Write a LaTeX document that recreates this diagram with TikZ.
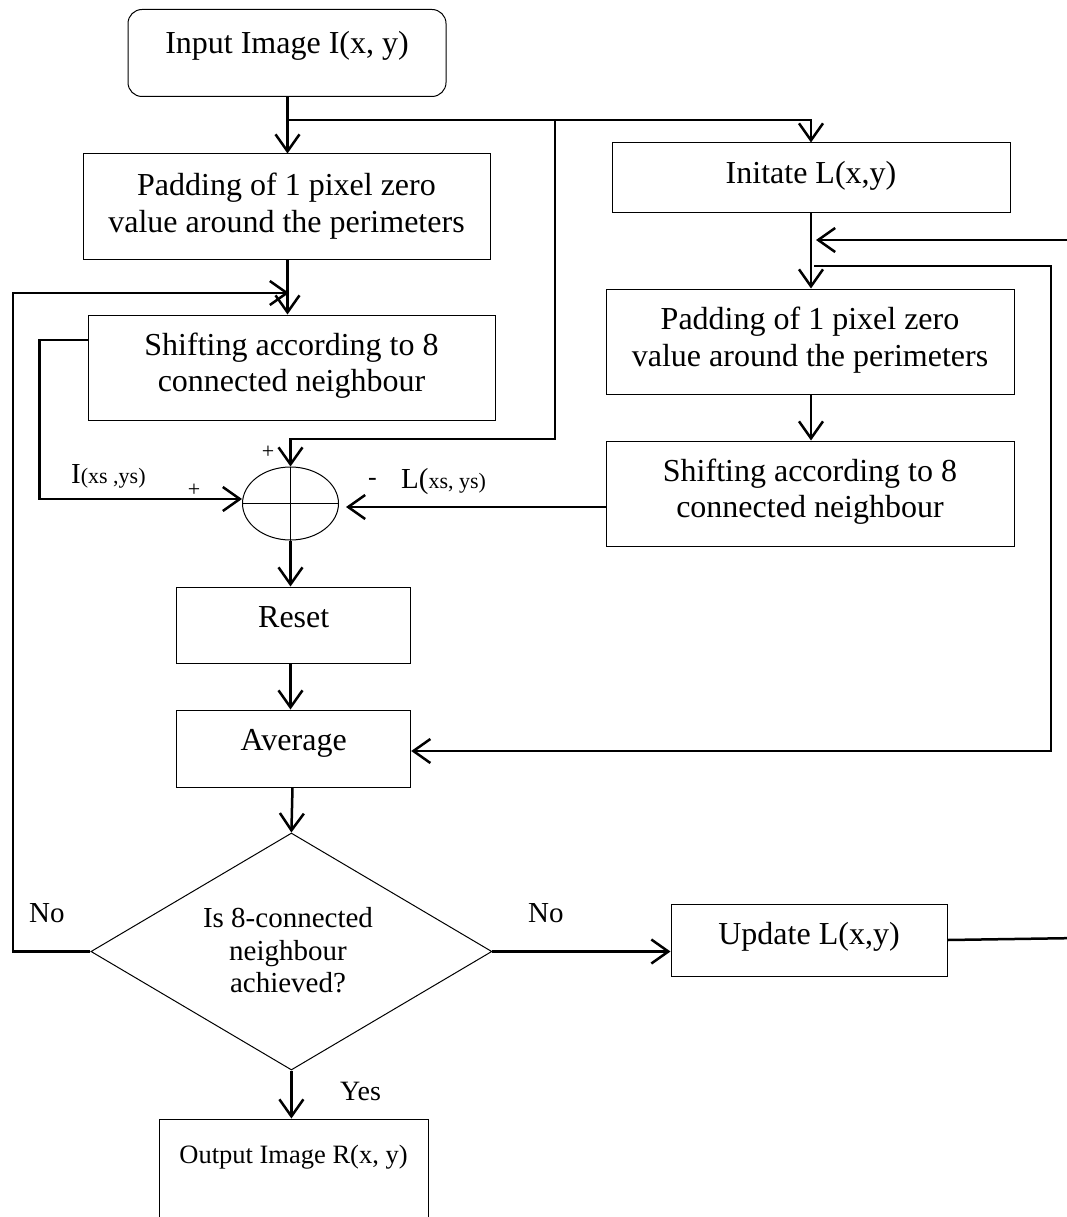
\documentclass[tikz,border=0pt]{standalone}
\usepackage{fontspec}
\setmainfont{Liberation Serif}
\usetikzlibrary{arrows.meta,shapes.geometric}
\begin{document}
\begin{tikzpicture}[x=1pt,y=-1pt,
  box/.style={draw, line width=1pt, inner sep=0pt},
  conn/.style={line width=2.5pt},
  arr/.style={conn, -{Straight Barb[length=17pt,width=24pt]}},
  lbl/.style={inner sep=0pt, anchor=base, font=\fontsize{32}{36}\selectfont},
  dlbl/.style={inner sep=0pt, anchor=base, font=\fontsize{29}{33}\selectfont},
  sgn/.style={inner sep=0pt, font=\fontsize{22}{24}\selectfont},
]
\useasboundingbox (0,0) rectangle (1067,1217);
\clip (0,0) rectangle (1067,1217);

% boxes
\node[box, rounded corners=14pt, minimum width=318pt, minimum height=87pt] (input) at (287,53) {};
\node[box, minimum width=407pt, minimum height=105pt] (pad1) at (286.5,206.5) {};
\node[box, minimum width=407pt, minimum height=105pt] (shift1) at (291.5,367.5) {};
\node[box, minimum width=398pt, minimum height=69pt] (init) at (811,177.5) {};
\node[box, minimum width=408pt, minimum height=105pt] (pad2) at (810,341.5) {};
\node[box, minimum width=408pt, minimum height=105pt] (shift2) at (810,493.5) {};
\node[box, ellipse, minimum width=96pt, minimum height=73pt] (sum) at (290.5,503.5) {};
\node[box, minimum width=234pt, minimum height=76pt] (reset) at (293.7,625) {};
\node[box, minimum width=234pt, minimum height=77pt] (avg) at (293.7,748.5) {};
\node[box, diamond, minimum width=401pt, minimum height=237pt] (dec) at (291.4,951.5) {};
\node[box, minimum width=276pt, minimum height=72pt] (upd) at (809,940) {};
\node[box, minimum width=269pt, minimum height=160pt] (out) at (293.5,1199) {};

% cross inside the summing junction
\draw[line width=1pt] (sum.north) -- (sum.south);
\draw[line width=1pt] (sum.west) -- (sum.east);

% texts
\node[lbl] (tin) at (287,54) {Input Image I(x, y)};
\node[lbl] (tp1a) at (286.5,196) {Padding of 1 pixel zero};
\node[lbl] (tp1b) at (286.5,232) {value around the perimeters};
\node[lbl] (ts1a) at (291.5,355) {Shifting according to 8};
\node[lbl] (ts1b) at (291.5,391) {connected neighbour};
\node[lbl] (tini) at (811,183) {Initate L(x,y)};
\node[lbl] (tp2a) at (810,329) {Padding of 1 pixel zero};
\node[lbl] (tp2b) at (810,366) {value around the perimeters};
\node[lbl] (ts2a) at (810,481) {Shifting according to 8};
\node[lbl] (ts2b) at (810,517) {connected neighbour};
\node[lbl] (trst) at (293.7,627) {Reset};
\node[lbl] (tavg) at (293.7,750) {Average};
\node[dlbl] (td1) at (288,927) {Is 8-connected};
\node[dlbl] (td2) at (288,960) {neighbour};
\node[dlbl] (td3) at (288,992) {achieved?};
\node[lbl] (tupd) at (809,944) {Update L(x,y)};
\node[inner sep=0pt, anchor=base, font=\fontsize{26.5}{30}\selectfont] (tout) at (293.5,1163) {Output Image R(x, y)};
\node[dlbl, anchor=base west] (tno1) at (29,922) {No};
\node[dlbl, anchor=base west] (tno2) at (528,922) {No};
\node[inner sep=0pt, anchor=base west, font=\fontsize{28}{30}\selectfont] (tyes) at (340,1100) {Yes};
\node[inner sep=0pt, anchor=base west] (tI) at (71,483) {{\fontsize{29}{30}\selectfont I}{\fontsize{22}{26}\selectfont(xs ,ys)}};
\node[inner sep=0pt, anchor=base west] (tL) at (401,488) {{\fontsize{29}{30}\selectfont L(}{\fontsize{22}{26}\selectfont xs, ys)}};
\node[sgn] (plus1) at (268,452) {+};
\node[sgn] (plus2) at (194,490) {+};
\node[inner sep=0pt, font=\fontsize{26}{28}\selectfont] (minus) at (372.5,482) {-};

% coordinates
\coordinate (j1) at (287.5,120);
\coordinate (j2) at (555,120);
\coordinate (j3) at (290.5,439);
\coordinate (fbL) at (13,293);
\coordinate (fbT) at (289,293);
\coordinate (sL) at (39.5,340);
\coordinate (inA) at (816,240);
\coordinate (inB) at (1080,240);
\coordinate (lpA) at (814,266);
\coordinate (lpB) at (1051,266);
\coordinate (updR) at (1080,938);

% connectors
\draw[arr] (input.south -| j1) -- (j1 |- pad1.north);
\draw[arr] (j1) -| (init.north);
\draw[arr] (j2) |- (j3) -- (sum.north);
\draw[arr] (pad1.south -| j1) -- (j1 |- shift1.north);
\draw[arr] (dec.west) -| (fbL) -- (fbT);
\draw[arr] (shift1.west |- sL) -| (sL |- 0,499) -- (sum.west |- 0,499);
\draw[arr] (shift2.west |- 0,507) -- (346,507);
\draw[arr] (init.south) -- (pad2.north -| init.south);
\draw[arr] (inB) -- (inA);
\draw[arr] (lpA) -- (lpB) |- (avg.east |- 0,751);
\draw[arr] (pad2.south -| init.south) -- (shift2.north -| init.south);
\draw[arr] (sum.south) -- (sum.south |- reset.north);
\draw[arr] (reset.south -| sum.south) -- (sum.south |- avg.north);
\draw[arr] (avg.south -| 292.5,0) -- (dec.north);
\draw[arr] (dec.east) -- (upd.west |- dec.east);
\draw[conn] (upd.east) -- (updR);
\draw[arr] (dec.south) -- (dec.south |- out.north);
\end{tikzpicture}
\end{document}
